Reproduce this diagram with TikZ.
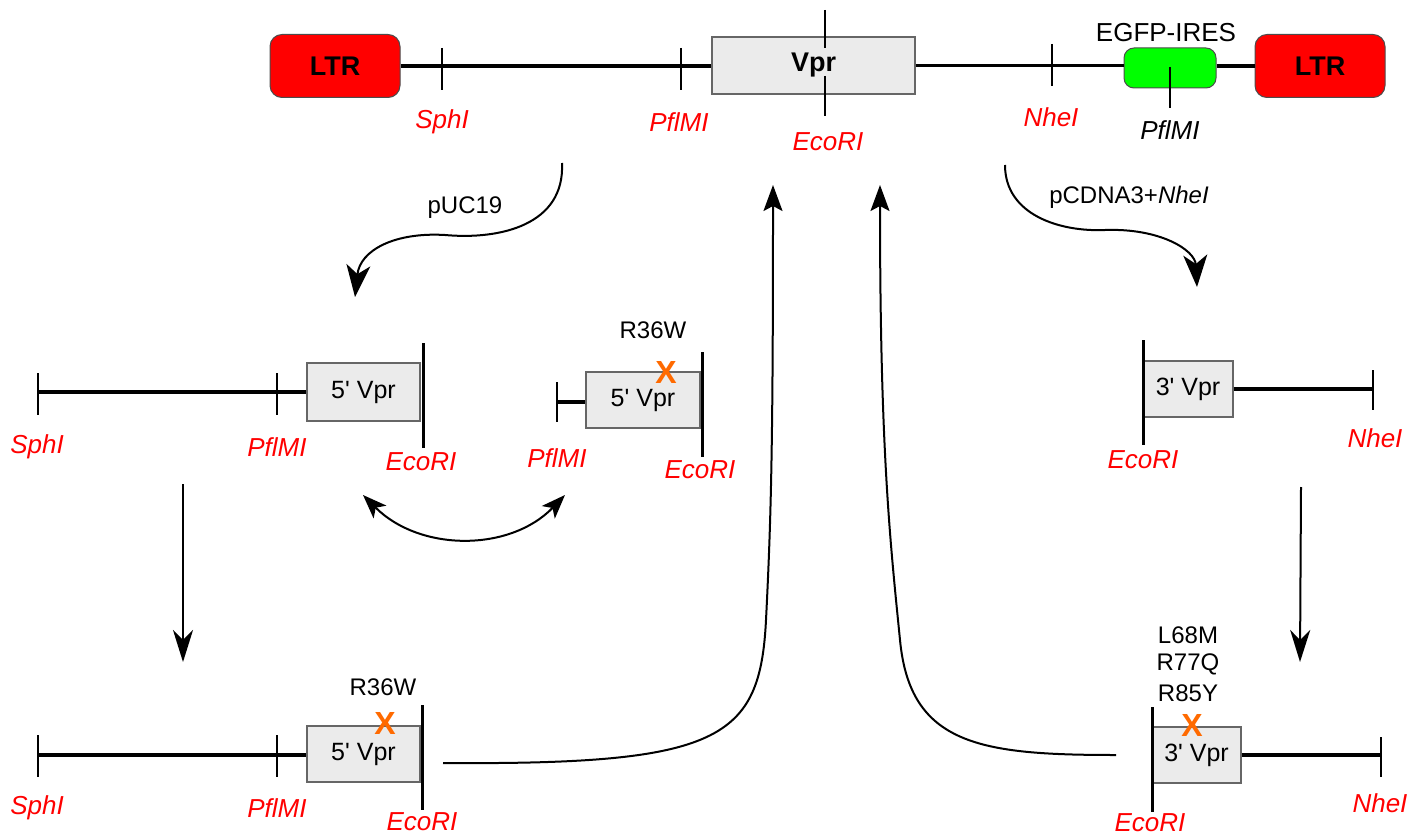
\documentclass[tikz,border=0pt]{standalone}
\usepackage{fontspec}
\setmainfont{Liberation Sans}
\usetikzlibrary{arrows.meta}
\definecolor{boxgray}{HTML}{EBEBEB}
\definecolor{ltrred}{HTML}{FF0000}
\definecolor{egfpgreen}{HTML}{00FF00}
\definecolor{xorange}{HTML}{FF6A00}
\begin{document}
\begin{tikzpicture}[x=1pt,y=-1pt,
  dna/.style={line width=3.5pt},
  site/.style={line width=2.5pt},
  ecosite/.style={line width=3pt},
  conn/.style={line width=2pt},
  fragbox/.style={draw=black!60, fill=boxgray, line width=1.2pt, inner sep=0pt,
      minimum height=57pt, font=\fontsize{25}{29}\selectfont},
  ltrbox/.style={draw=black!70, fill=ltrred, rounded corners=12pt, line width=1pt,
      minimum width=130pt, minimum height=63pt, font=\fontsize{27}{32}\selectfont\bfseries},
  lbl/.style={text=red, inner sep=0pt, font=\fontsize{26}{30}\selectfont\itshape},
  txt/.style={inner sep=0pt, font=\fontsize{24}{28}\selectfont},
  xmark/.style={inner sep=0pt, text=xorange, font=\fontsize{32}{36}\selectfont\bfseries},
  bigtip/.style={-{Stealth[length=26pt,width=19pt,inset=5pt]}},
  downtip/.style={-{Stealth[length=32pt,width=20pt,inset=10pt]}},
  curltip/.style={-{Stealth[length=32pt,width=24pt,inset=9pt]}},
  bothtip/.style={{Stealth[length=24pt,width=18pt,inset=6pt]}-{Stealth[length=24pt,width=18pt,inset=6pt]}}
]
\useasboundingbox (0,0) rectangle (1421,837);

% ---------------- top construct ----------------
\node[ltrbox] (ltrL) at (335,66) {LTR};
\node[ltrbox] (ltrR) at (1320,66) {LTR};
\node[fragbox, minimum width=203pt, font=\fontsize{27}{32}\selectfont\bfseries] (vpr) at (813.5,65.5) {Vpr};
\node[draw=black!70, fill=egfpgreen, rounded corners=10pt, line width=1pt,
      minimum width=92pt, minimum height=40pt] (egfp) at (1170,68) {};
\draw[dna] (ltrL.east) -- (ltrL.east -| vpr.west);
\draw[dna] (vpr.east) -- (vpr.east -| egfp.west);
\draw[dna] (egfp.east |- ltrR.west) -- (ltrR.west);

\draw[site] (442,48) -- (442,90);
\draw[site] (681,48) -- (681,90);
\draw[site] (825,10) -- (825,48);
\draw[site] (825,76) -- (825,116);
\draw[site] (1052,44) -- (1052,86);
\draw[site] (1170,67) -- (1170,108);

\node[lbl] (tSph) at (442,122) {SphI};
\node[lbl] (tPfl) at (679,122) {PflMI};
\node[lbl] (tEco) at (828,142) {EcoRI};
\node[lbl] (tNhe) at (1051,117) {NheI};
\node[lbl, text=black] (tPfl2) at (1170,130) {PflMI};
\node[txt, font=\fontsize{26}{30}\selectfont] (tEgfp) at (1166,33) {EGFP-IRES};

% ---------------- middle left construct ----------------
\node[fragbox, minimum width=113pt, minimum height=58pt] (ml) at (363.5,392) {5\textquotesingle\ Vpr};
\coordinate (mlS) at (38,392);
\draw[dna] (mlS) -- (ml.west);
\draw[site] (38,373) -- (38,415);
\draw[site] (277,373) -- (277,415);
\draw[ecosite] (423,343) -- (423,448);
\node[lbl] (mlSph) at (37,447) {SphI};
\node[lbl] (mlPfl) at (277,447) {PflMI};
\node[lbl] (mlEco) at (421,462) {EcoRI};

% ---------------- middle R36W construct ----------------
\node[fragbox, minimum width=114pt, minimum height=56pt] (mr) at (643,400) {5\textquotesingle\ Vpr};
\coordinate (mrP) at (557,402);
\draw[dna] (mrP) -- (mrP -| mr.west);
\draw[site] (557,382) -- (557,422);
\draw[ecosite] (702,352) -- (702,457);
\node[xmark] (mrX) at (666,372) {X};
\node[txt] (mrMut) at (653,330) {R36W};
\node[lbl] (mrPfl) at (557,458) {PflMI};
\node[lbl] (mrEco) at (700,470) {EcoRI};

% ---------------- right middle construct ----------------
\node[fragbox, minimum width=90pt, minimum height=56pt] (rm) at (1188,389) {3\textquotesingle\ Vpr};
\coordinate (rmN) at (1373,389);
\draw[dna] (rm.east) -- (rmN);
\draw[site] (1373,370) -- (1373,410);
\draw[ecosite] (1143,340) -- (1143,445);
\node[lbl] (rmEco) at (1143,460) {EcoRI};
\node[lbl] (rmNhe) at (1375,438) {NheI};

% ---------------- bottom left construct ----------------
\node[fragbox, minimum width=113pt, minimum height=56pt] (bl) at (363.5,754) {5\textquotesingle\ Vpr};
\coordinate (blS) at (38,755);
\draw[dna] (blS) -- (blS -| bl.west);
\draw[site] (38,735) -- (38,777);
\draw[site] (277,735) -- (277,777);
\draw[ecosite] (422,705) -- (422,810);
\node[xmark] (blX) at (385,723) {X};
\node[txt] (blMut) at (383,687) {R36W};
\node[lbl] (blSph) at (37,808) {SphI};
\node[lbl] (blPfl) at (277,808) {PflMI};
\node[lbl] (blEco) at (422,822) {EcoRI};

% ---------------- bottom right construct ----------------
\node[fragbox, minimum width=89pt, minimum height=56pt] (br) at (1196.5,755) {3\textquotesingle\ Vpr};
\coordinate (brN) at (1381,755);
\draw[dna] (br.east) -- (brN);
\draw[site] (1381,737) -- (1381,777);
\draw[ecosite] (1152,707) -- (1152,812);
\node[xmark] (brX) at (1192,725) {X};
\node[txt] (brM1) at (1188,635) {L68M};
\node[txt] (brM2) at (1188,664) {R77Q};
\node[txt] (brM3) at (1188,693) {R85Y};
\node[lbl] (brEco) at (1150,823) {EcoRI};
\node[lbl] (brNhe) at (1380,803) {NheI};

% ---------------- connectors ----------------
\coordinate (cu1s) at (562,163);
\coordinate (cu1e) at (355,297);
\draw[conn, curltip] (cu1s) .. controls (565,225) and (500,240) .. (445,235)
      .. controls (395,232) and (360,250) .. (cu1e);
\node[txt] (lpuc) at (465,208) {pUC19};

\coordinate (cu2s) at (1005,165);
\coordinate (cu2e) at (1197,287);
\draw[conn, curltip] (cu2s) .. controls (1005,215) and (1060,232) .. (1105,230)
      .. controls (1160,228) and (1195,250) .. (cu2e);
\node[txt] (lpc) at (1129,197) {pCDNA3+\textit{NheI}};

\coordinate (dbl1) at (363,495);
\coordinate (dbl2) at (565,495);
\draw[conn, bothtip] (dbl1) .. controls (420,552) and (510,552) .. (dbl2);

\coordinate (dl1) at (183,484);
\coordinate (dl2) at (183,662);
\draw[conn, downtip] (dl1) -- (dl2);
\coordinate (dr1) at (1301,487);
\coordinate (dr2) at (1300,662);
\draw[conn, downtip] (dr1) -- (dr2);

\coordinate (bg1s) at (443,763);
\coordinate (bg1e) at (773,185);
\draw[conn, bigtip] (bg1s) .. controls (720,765) and (760,740) .. (766,620)
      .. controls (771,520) and (773,450) .. (bg1e);

\coordinate (bg2s) at (1116,755);
\coordinate (bg2e) at (880,185);
\draw[conn, bigtip] (bg2s) .. controls (980,755) and (910,745) .. (900,640)
      .. controls (890,540) and (880,450) .. (bg2e);
\end{tikzpicture}
\end{document}
